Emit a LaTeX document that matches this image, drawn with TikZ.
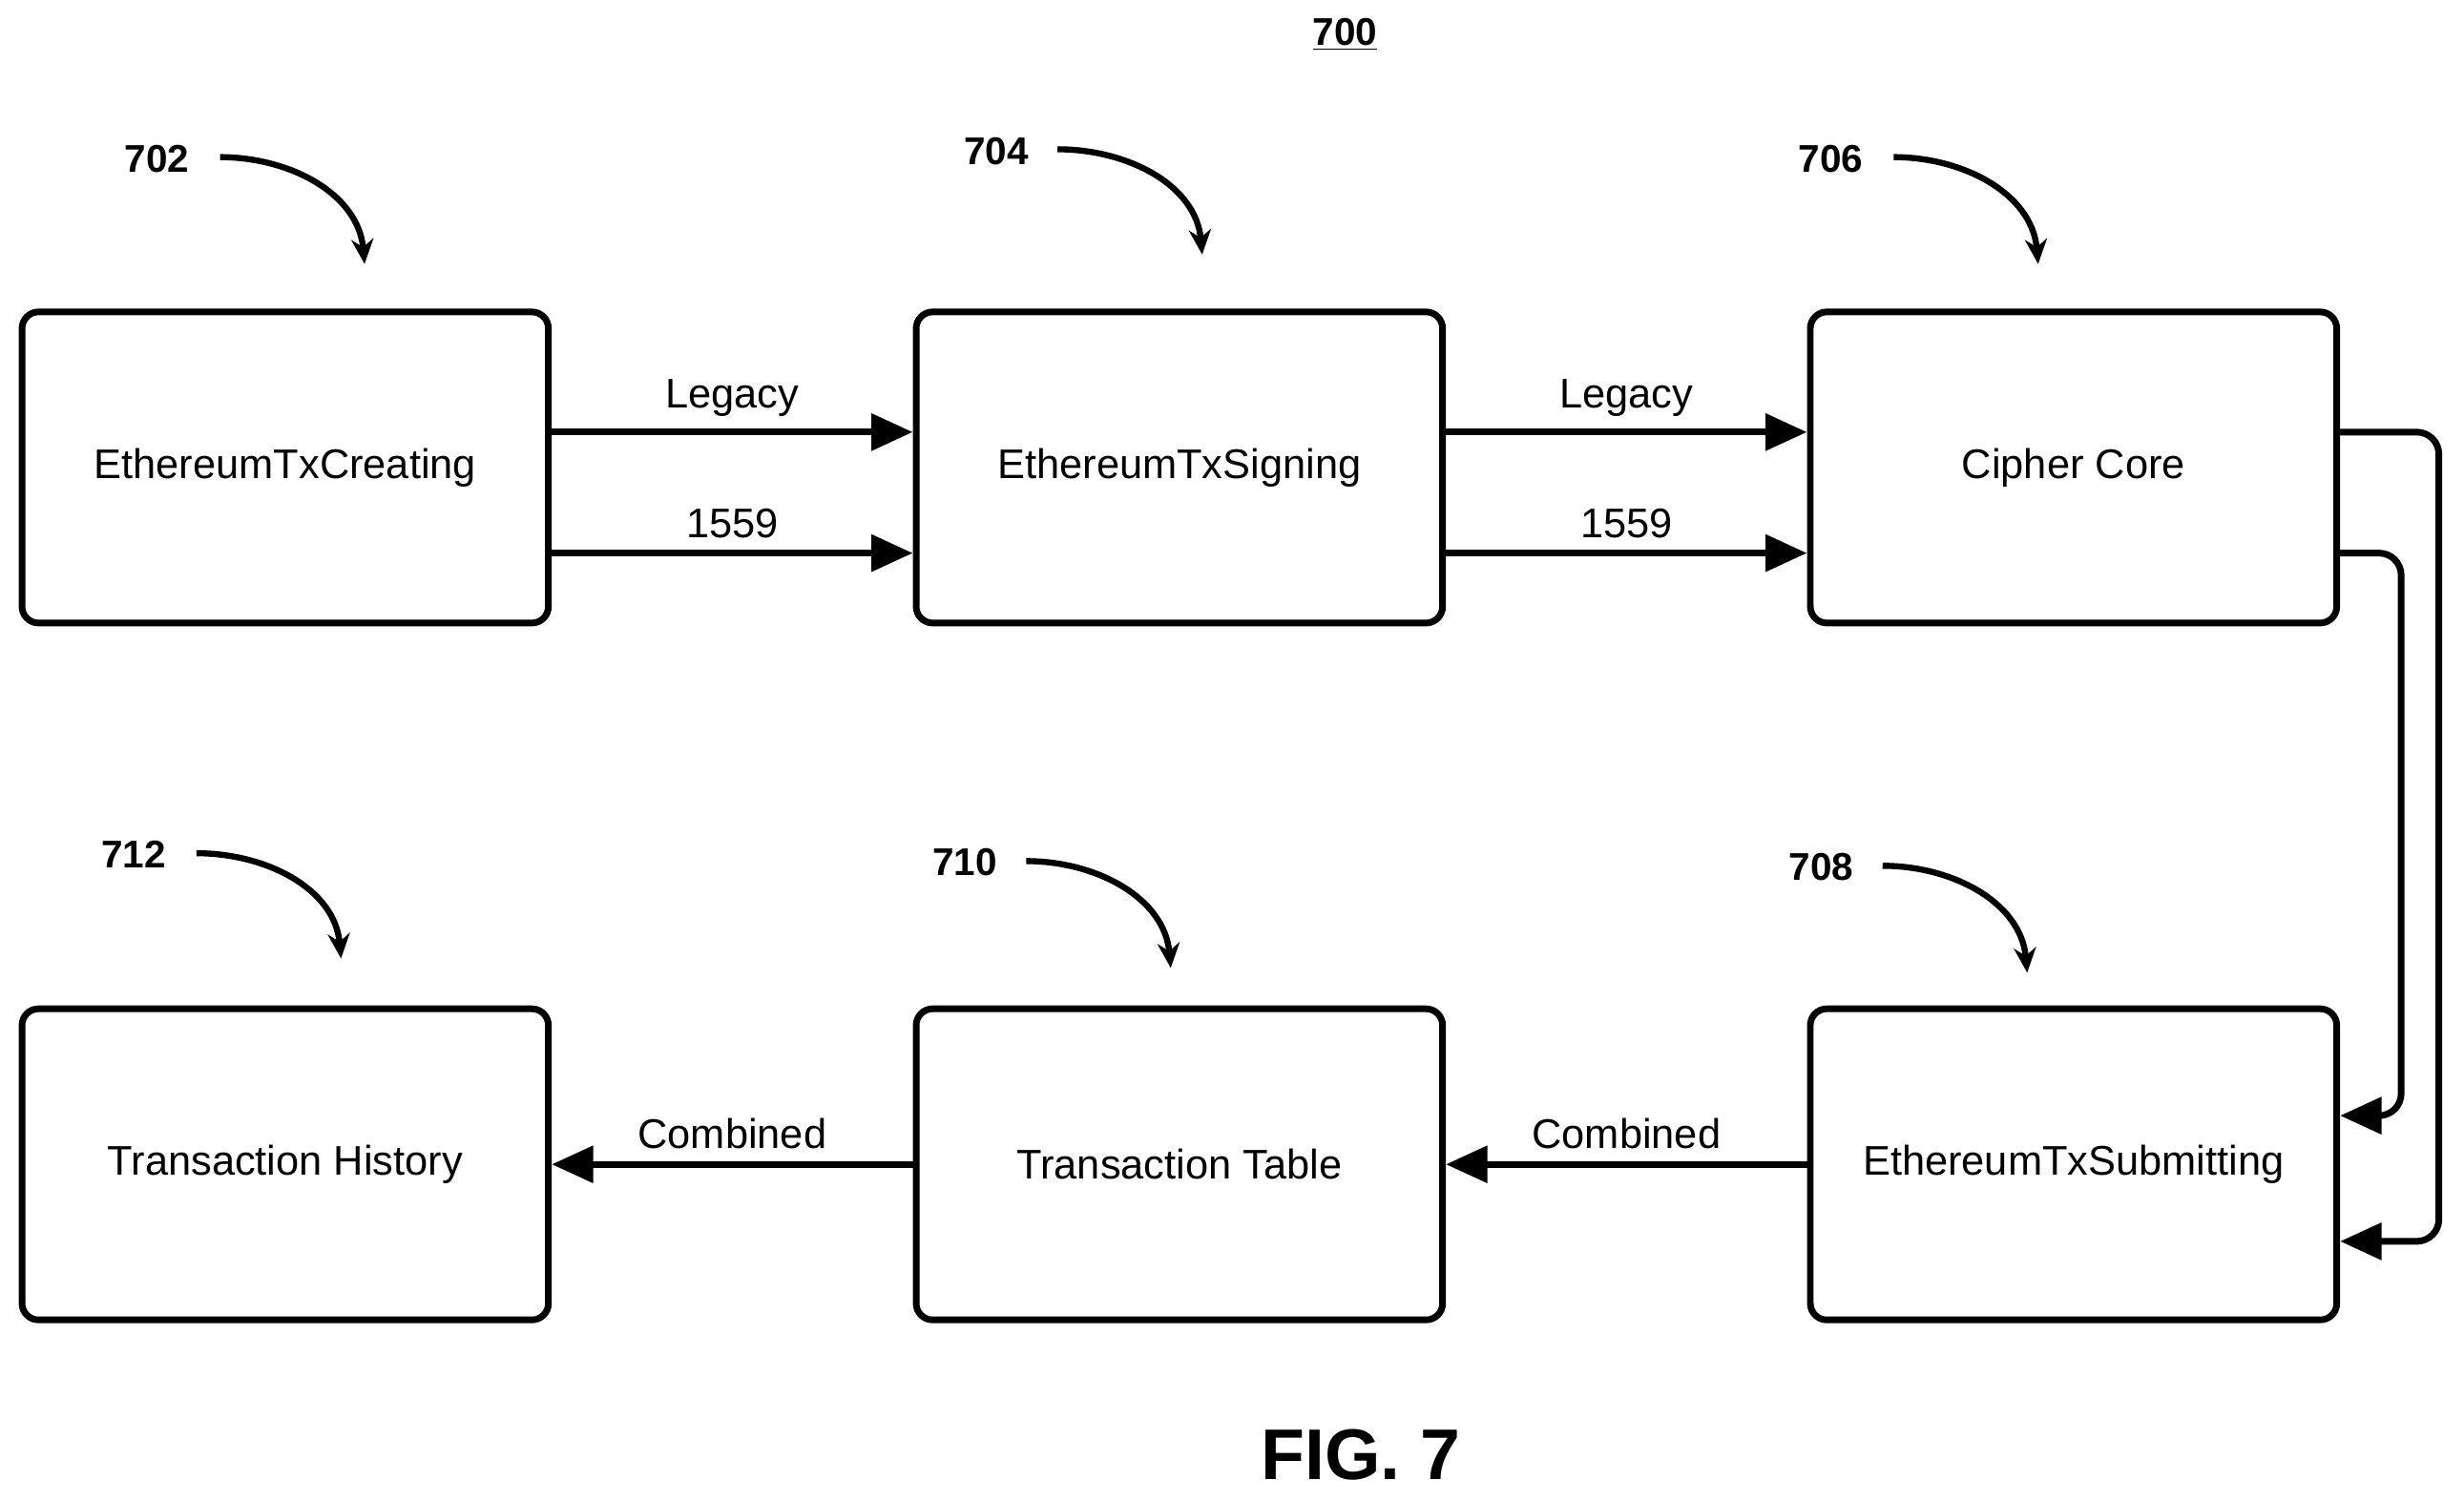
\documentclass[tikz,border=0pt]{standalone}
\usepackage{fontspec}
\setmainfont{Liberation Sans}
\usetikzlibrary{arrows.meta}
\begin{document}
\begin{tikzpicture}[x=0.02cm,y=-0.02cm,
 box/.style={draw,line width=2.4pt,rounded corners=6pt,minimum width=335*0.02cm,minimum height=198*0.02cm,font=\fontsize{15}{18}\selectfont},
 arr/.style={line width=2.4pt,-{Triangle[length=15pt,width=13pt]}},
 carr/.style={line width=2.2pt,-{Stealth[length=9pt,width=8pt]}},
 lab/.style={font=\fontsize{15}{18}\selectfont},
 num/.style={font=\bfseries\fontsize{14}{16}\selectfont}]
\useasboundingbox (0,0) rectangle (1568,955);
\node[box] (a) at (181.5,297.5) {EthereumTxCreating};
\node[box] (b) at (750.5,297.5) {EthereumTxSigning};
\node[box] (c) at (1319.5,297.5) {Cipher Core};
\node[box] (f) at (181.5,741) {Transaction History};
\node[box] (e) at (750.5,741) {Transaction Table};
\node[box] (d) at (1319.5,741) {EthereumTxSubmitting};
\draw[arr] (a.east|-0,275) -- (b.west|-0,275) node[lab,midway,above=1pt] {Legacy};
\draw[arr] (a.east|-0,352) -- (b.west|-0,352) node[lab,midway,above=1pt] {1559};
\draw[arr] (b.east|-0,275) -- (c.west|-0,275) node[lab,midway,above=1pt] {Legacy};
\draw[arr] (b.east|-0,352) -- (c.west|-0,352) node[lab,midway,above=1pt] {1559};
\draw[arr,rounded corners=8pt] (c.east|-0,275) -- (1552,275) -- (1552,790) -- (d.east|-0,790);
\draw[arr,rounded corners=8pt] (c.east|-0,352) -- (1528,352) -- (1528,710) -- (d.east|-0,710);
\draw[arr] (d.west) -- (e.east) node[lab,midway,above=1pt] {Combined};
\draw[arr] (e.west) -- (f.east) node[lab,midway,above=1pt] {Combined};
\node[num] (n700) at (856,22) {\underline{700}};
\node[num] (n702) at (100,101) {702};
\node[num] (n704) at (634,96) {704};
\node[num] (n706) at (1165,101) {706};
\node[num] (n712) at (85,544) {712};
\node[num] (n710) at (614,549) {710};
\node[num] (n708) at (1159,552) {708};
\draw[carr] (140,100) to[out=0,in=95] (232,168);
\draw[carr] (673,95) to[out=0,in=95] (765,162);
\draw[carr] (1205,100) to[out=0,in=95] (1297,168);
\draw[carr] (125,543) to[out=0,in=95] (217,610);
\draw[carr] (653,548) to[out=0,in=95] (745,616);
\draw[carr] (1198,551) to[out=0,in=95] (1290,619);
\node[font=\bfseries\fontsize{26}{30}\selectfont] (fig) at (866,926) {FIG. 7};
\end{tikzpicture}
\end{document}
